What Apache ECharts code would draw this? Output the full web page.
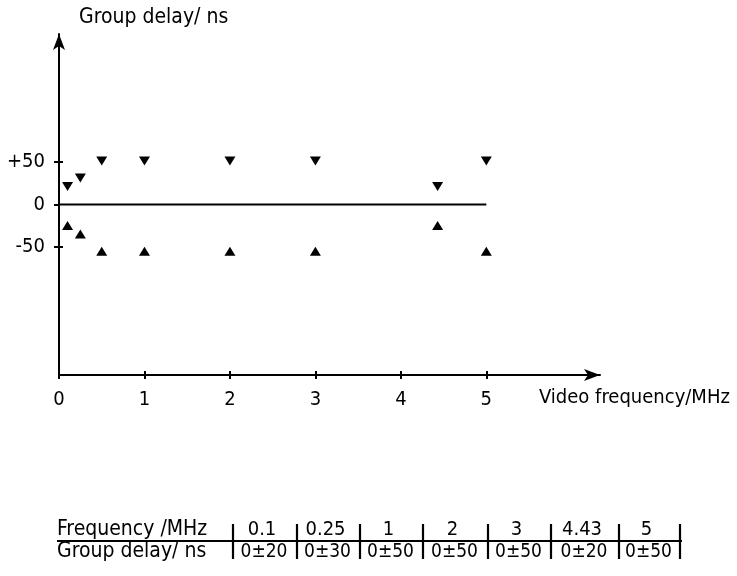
<!DOCTYPE html>
<html>
<head>
<meta charset="utf-8">
<script src="https://cdn.jsdelivr.net/npm/echarts@6/dist/echarts.min.js"></script>
<style>
  html, body { margin: 0; padding: 0; background: #fff; }
  #chart { width: 737px; height: 576px; }
</style>
</head>
<body>
<div id="chart"></div>
<script>
// Measured group-delay tolerance limits against video frequency
const freqs = [0.1, 0.25, 0.5, 1, 2, 3, 4.43, 5];
const upperLimit = [20, 30, 50, 50, 50, 50, 20, 50];
const lowerLimit = [-20, -30, -50, -50, -50, -50, -20, -50];

// Axis ticks
const xTicks = [0, 1, 2, 3, 4, 5];
const yTicks = [-50, 0, 50];

// Summary table
const tableHeader = ['Frequency /MHz', 'Group delay/ ns'];
const tableFreqs = ['0.1', '0.25', '1', '2', '3', '4.43', '5'];
const tableDelays = ['0±20', '0±30', '0±50', '0±50', '0±50', '0±20', '0±50'];

const FONT = '"DejaVu Sans Condensed", "DejaVu Sans", sans-serif';
const INK = '#000';

const chart = echarts.init(document.getElementById('chart'), null, { renderer: 'canvas' });

// Table layout: column boundaries and row centres
const colEdges = [233, 297, 360, 423, 488, 551, 619, 680];
const tableLeft = 57;
const rowY = [530, 552];
const tableTop = 524, tableBottom = 559, ruleY = 541;

const tableGraphics = [];
tableGraphics.push({
  type: 'line',
  shape: { x1: tableLeft, y1: ruleY, x2: colEdges[colEdges.length - 1] + 2, y2: ruleY },
  style: { stroke: INK, lineWidth: 2 }
});
colEdges.forEach(function (x) {
  tableGraphics.push({
    type: 'line',
    shape: { x1: x, y1: tableTop, x2: x, y2: tableBottom },
    style: { stroke: INK, lineWidth: 2.2 }
  });
});
tableHeader.forEach(function (t, i) {
  tableGraphics.push({
    type: 'text', x: tableLeft, y: rowY[i],
    style: { text: t, font: '21px ' + FONT, fill: INK, textVerticalAlign: 'middle', textAlign: 'left' }
  });
});
tableFreqs.forEach(function (t, i) {
  const cx = (colEdges[i] + colEdges[i + 1]) / 2;
  tableGraphics.push({
    type: 'text', x: cx - 3, y: rowY[0],
    style: { text: t, font: '20px ' + FONT, fill: INK, textVerticalAlign: 'middle', textAlign: 'center' }
  });
  tableGraphics.push({
    type: 'text', x: cx - 1, y: rowY[1],
    style: { text: tableDelays[i], font: '19px ' + FONT, fill: INK, textVerticalAlign: 'middle', textAlign: 'center' }
  });
});

const xMin = 0, xMax = 6.33, yMin = -200, yMax = 200;

const option = {
  backgroundColor: '#fff',
  animation: false,
  grid: { left: 59, right: 137, top: 34, bottom: 201, containLabel: false },
  xAxis: [
    {
      type: 'value', min: xMin, max: xMax, position: 'bottom',
      axisLine: {
        show: true, onZero: false,
        symbol: ['none', 'arrow'], symbolSize: [9, 16], symbolOffset: [0, 0],
        lineStyle: { color: INK, width: 2 }
      },
      axisTick: { show: true, inside: false, length: 4, customValues: xTicks, lineStyle: { color: INK, width: 2 } },
      axisLabel: { show: true, customValues: xTicks, margin: 15, color: INK, fontFamily: FONT, fontSize: 20 },
      splitLine: { show: false }
    },
    {
      type: 'value', min: xMin, max: xMax, position: 'bottom',
      axisLine: { show: false, onZero: false },
      axisTick: { show: true, inside: true, length: 4, customValues: xTicks, lineStyle: { color: INK, width: 2 } },
      axisLabel: { show: false },
      splitLine: { show: false }
    }
  ],
  yAxis: [
    {
      type: 'value', min: yMin, max: yMax, position: 'left',
      axisLine: {
        show: true, onZero: false,
        symbol: ['none', 'arrow'], symbolSize: [9, 16], symbolOffset: [0, 0],
        lineStyle: { color: INK, width: 2 }
      },
      axisTick: { show: true, inside: false, length: 5, customValues: yTicks, lineStyle: { color: INK, width: 2 } },
      axisLabel: {
        show: true, customValues: yTicks, margin: 14, color: INK, fontFamily: FONT, fontSize: 20,
        formatter: function (v) { return v > 0 ? '+' + v : String(v); }
      },
      splitLine: { show: false }
    },
    {
      type: 'value', min: yMin, max: yMax, position: 'left',
      axisLine: { show: false, onZero: false },
      axisTick: { show: true, inside: true, length: 4, customValues: yTicks.filter(function (v) { return v !== 0; }), lineStyle: { color: INK, width: 2 } },
      axisLabel: { show: false },
      splitLine: { show: false }
    }
  ],
  graphic: [
    {
      type: 'text', left: 79, top: 7,
      style: { text: 'Group delay/ ns', font: '21px ' + FONT, fill: INK }
    },
    {
      type: 'text', left: 539, top: 388,
      style: { text: 'Video frequency/MHz', font: '20px ' + FONT, fill: INK }
    }
  ].concat(tableGraphics),
  series: [
    {
      // zero reference line across the measured band
      type: 'line',
      data: [[0, 0], [freqs[freqs.length - 1], 0]],
      symbol: 'none',
      lineStyle: { color: INK, width: 2 },
      silent: true
    },
    {
      name: 'upper',
      type: 'scatter',
      data: freqs.map(function (f, i) { return [f, upperLimit[i]]; }),
      symbol: 'triangle', symbolRotate: 180, symbolSize: [11, 9], symbolOffset: [0, -1],
      itemStyle: { color: INK, opacity: 1 }
    },
    {
      name: 'lower',
      type: 'scatter',
      data: freqs.map(function (f, i) { return [f, lowerLimit[i]]; }),
      symbol: 'triangle', symbolSize: [11, 9], symbolOffset: [0, 4],
      itemStyle: { color: INK, opacity: 1 }
    }
  ]
};

chart.setOption(option);
</script>
</body>
</html>
